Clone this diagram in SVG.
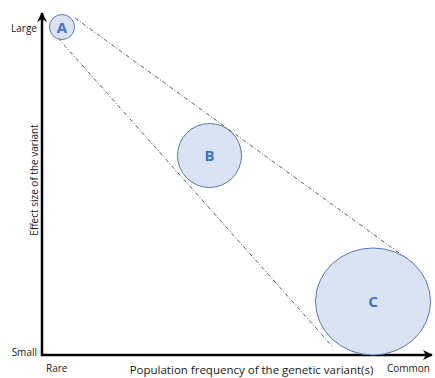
<svg xmlns="http://www.w3.org/2000/svg" width="435" height="378" viewBox="0 0 435 378">
<style>
.lbl{font-family:"Open Sans","Liberation Sans",sans-serif;font-size:10px;fill:#1a1a1a}
.big{font-size:11.5px}
.bub{fill:#DAE3F3;stroke:#5E77B5;stroke-width:1}
.let{font-family:"Open Sans","Liberation Sans",sans-serif;font-size:15px;font-weight:bold;fill:#4472C4;text-anchor:middle}
.axis{stroke:#000;stroke-width:2.5;fill:none}
.dash{stroke:#333;stroke-width:0.8;stroke-dasharray:4 2 1 2;fill:none}
</style>
<defs>
<marker id="ah" viewBox="0 0 10 10" refX="9" refY="5" markerWidth="4" markerHeight="4" orient="auto" markerUnits="strokeWidth">
<path d="M0,0 L10,5 L0,10 L3,5 Z" fill="#000"/>
</marker>
</defs>
<rect width="435" height="378" fill="#fff"/>
<g id="connectors">
<line class="dash" x1="75" y1="18" x2="413" y2="263"/>
<line class="dash" x1="58" y1="38" x2="332" y2="346"/>
</g>
<g id="axes">
<line class="axis" x1="42" y1="356" x2="42" y2="13" marker-end="url(#ah)"/>
<line class="axis" x1="41" y1="355" x2="432" y2="355" marker-end="url(#ah)"/>
</g>
<g id="node-A">
<circle class="bub" cx="62" cy="27" r="12.5"/>
<text class="let" x="62" y="32.5">A</text>
</g>
<g id="node-B">
<circle class="bub" cx="209.5" cy="155.5" r="32"/>
<text class="let" x="209.5" y="161">B</text>
</g>
<g id="node-C">
<ellipse class="bub" cx="373" cy="301.5" rx="57.5" ry="53.5"/>
<text class="let" x="373" y="307">C</text>
</g>
<g id="labels">
<text class="lbl" x="37" y="32" text-anchor="end">Large</text>
<text class="lbl" x="37" y="356" text-anchor="end">Small</text>
<text class="lbl" x="46" y="372">Rare</text>
<text class="lbl" x="387" y="372">Common</text>
<text class="lbl big" x="251.5" y="373.5" text-anchor="middle">Population frequency of the genetic variant(s)</text>
<text class="lbl" transform="translate(37.5,180) rotate(-90)" text-anchor="middle">Effect size of the variant</text>
</g>
</svg>
